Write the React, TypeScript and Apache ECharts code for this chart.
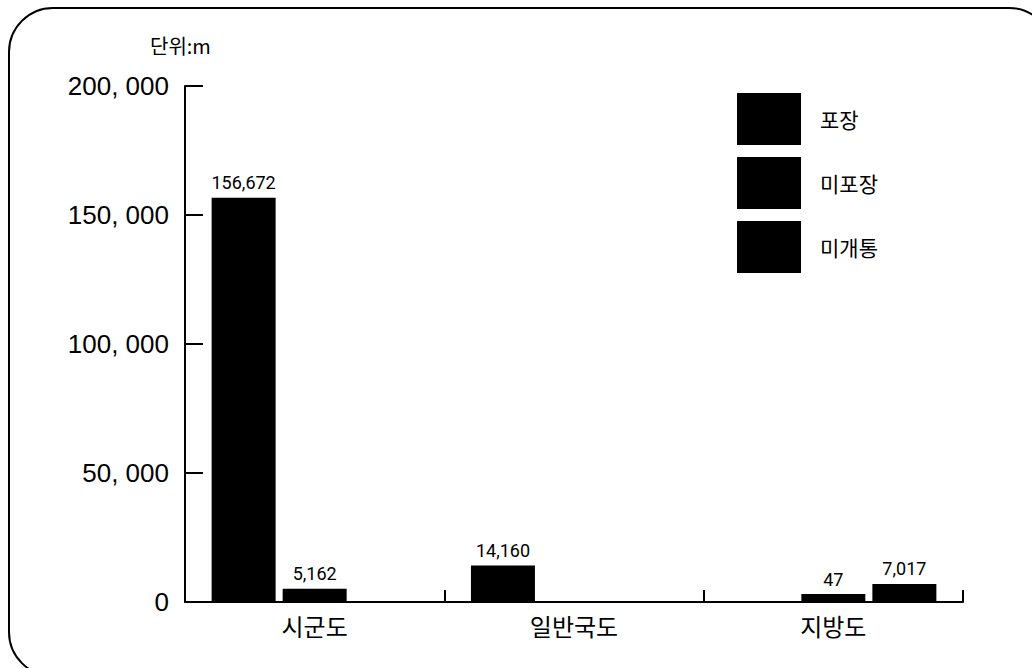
import React, { useEffect, useRef } from "react";
import * as echarts from "echarts";

const categories = ["시군도", "일반국도", "지방도"];
const seriesNames = ["포장", "미포장", "미개통"];
const paved = [156672, 14160, 0];
const unpaved = [5162, 0, 47];
const unopened = [0, 0, 7017];
const yTicks = [0, 50000, 100000, 150000, 200000];
const unitLabel = "단위:m";

const fmtTick = (v: number) => {
  if (v === 0) return "0";
  const s = String(v);
  return s.slice(0, s.length - 3) + ", " + s.slice(s.length - 3);
};
const fmtVal = (v: number) => v.toLocaleString("en-US");

export default function App() {
  const ref = useRef<HTMLDivElement>(null);
  useEffect(() => {
    if (!ref.current) return;
    const chart = echarts.init(ref.current, null, { renderer: "svg" });
    const mk = (name: string, vals: number[]) => ({
      name,
      type: "bar",
      data: vals.map((v) => (v === 0 ? "-" : v)),
      barWidth: 64,
      barGap: "11%",
      barMinHeight: 8,
      itemStyle: { color: "#000" },
      label: {
        show: true,
        position: "top",
        distance: 6,
        formatter: (p: any) => fmtVal(p.value),
        fontFamily: "'Liberation Sans Narrow', 'Roboto', sans-serif",
        fontSize: 18,
        color: "#000",
      },
    });
    chart.setOption({
      animation: false,
      backgroundColor: "#fff",
      grid: { left: 185, right: 69, top: 86, bottom: 66, containLabel: false },
      legend: {
        orient: "vertical",
        left: 732,
        top: 88,
        itemWidth: 64,
        itemHeight: 52,
        itemGap: 12,
        icon: "rect",
        data: seriesNames,
        textStyle: {
          fontFamily: "'Noto Sans CJK KR', sans-serif",
          fontSize: 21,
          color: "#000",
          padding: [0, 0, 0, 14],
        },
      },
      graphic: [
        {
          type: "rect",
          shape: { x: 9, y: 8, width: 1044, height: 668, r: 44 },
          style: { fill: "none", stroke: "#000", lineWidth: 2 },
          silent: true,
          z: -1,
        },
        {
          type: "text",
          left: 150,
          top: 35,
          style: {
            text: unitLabel,
            fontFamily: "'Noto Sans CJK KR', sans-serif",
            fontSize: 20,
            fill: "#000",
          },
        },
      ],
      xAxis: {
        type: "category",
        data: categories,
        boundaryGap: true,
        axisLine: { show: true, lineStyle: { color: "#000", width: 2 } },
        axisTick: { show: true, inside: true, length: 12, lineStyle: { color: "#000", width: 2 } },
        axisLabel: {
          margin: 11,
          fontFamily: "'Noto Sans CJK KR', sans-serif",
          fontSize: 24,
          color: "#000",
        },
        splitLine: { show: false },
      },
      yAxis: {
        type: "value",
        min: yTicks[0],
        max: yTicks[yTicks.length - 1],
        interval: yTicks[1] - yTicks[0],
        axisLine: { show: true, lineStyle: { color: "#000", width: 2 } },
        axisTick: { show: true, inside: true, length: 18, lineStyle: { color: "#000", width: 2 } },
        axisLabel: {
          margin: 16,
          formatter: (v: number) => fmtTick(v),
          fontFamily: "'Liberation Sans', sans-serif",
          fontSize: 26,
          color: "#000",
        },
        splitLine: { show: false },
      },
      series: [mk(seriesNames[0], paved), mk(seriesNames[1], unpaved), mk(seriesNames[2], unopened)],
    });
    return () => chart.dispose();
  }, []);
  return (
    <div
      ref={ref}
      style={{ position: "fixed", left: 0, top: 0, width: 1032, height: 668, background: "#fff" }}
    />
  );
}
